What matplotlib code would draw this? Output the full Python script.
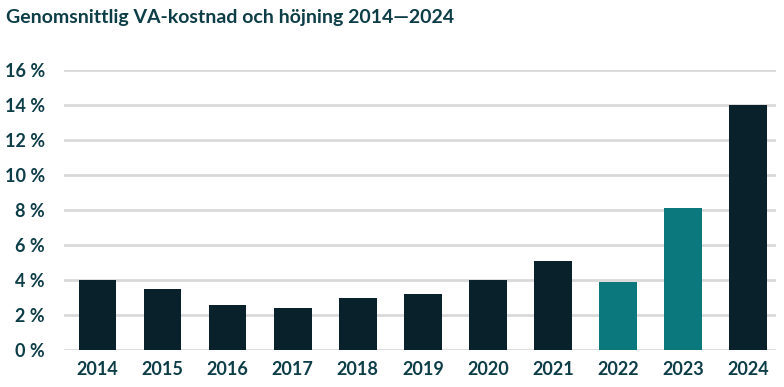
import matplotlib.pyplot as plt

years = ["2014", "2015", "2016", "2017", "2018", "2019", "2020", "2021", "2022", "2023", "2024"]
increase = [4.0, 3.5, 2.6, 2.4, 3.0, 3.2, 4.0, 5.1, 3.9, 8.1, 14.0]
bar_colors = ["#08212a", "#08212a", "#08212a", "#08212a", "#08212a", "#08212a",
              "#08212a", "#08212a", "#0a787d", "#0a787d", "#08212a"]
yticks = [0, 2, 4, 6, 8, 10, 12, 14, 16]

text_color = "#0d3d47"
plt.rcParams["font.family"] = ["Lato", "DejaVu Sans"]

fig = plt.figure(figsize=(7.84, 3.87), dpi=100)
ax = fig.add_axes([0.082, 0.0956, 0.908, 0.7234])

x = range(len(years))
ax.bar(x, increase, width=0.58, color=bar_colors, zorder=3)

ax.set_ylim(0, 16)
ax.set_xlim(-0.51, 10.43)
ax.set_yticks(yticks)
ax.set_yticklabels(["%d %%" % t for t in yticks])
ax.set_xticks(list(x))
ax.set_xticklabels(years)
ax.tick_params(axis="both", length=0, labelsize=13, colors=text_color)
ax.tick_params(axis="y", pad=14)
ax.tick_params(axis="x", pad=8)
for lbl in ax.get_xticklabels() + ax.get_yticklabels():
    lbl.set_fontweight("bold")

ax.grid(axis="y", color="#d9d9d9", linewidth=2, zorder=0)
for s in ax.spines.values():
    s.set_visible(False)

fig.text(0.008, 0.955, "Genomsnittlig VA-kostnad och höjning 2014\u20142024",
         fontsize=14, fontweight="bold", color=text_color, va="center")

fig.savefig("out.png", dpi=100)
